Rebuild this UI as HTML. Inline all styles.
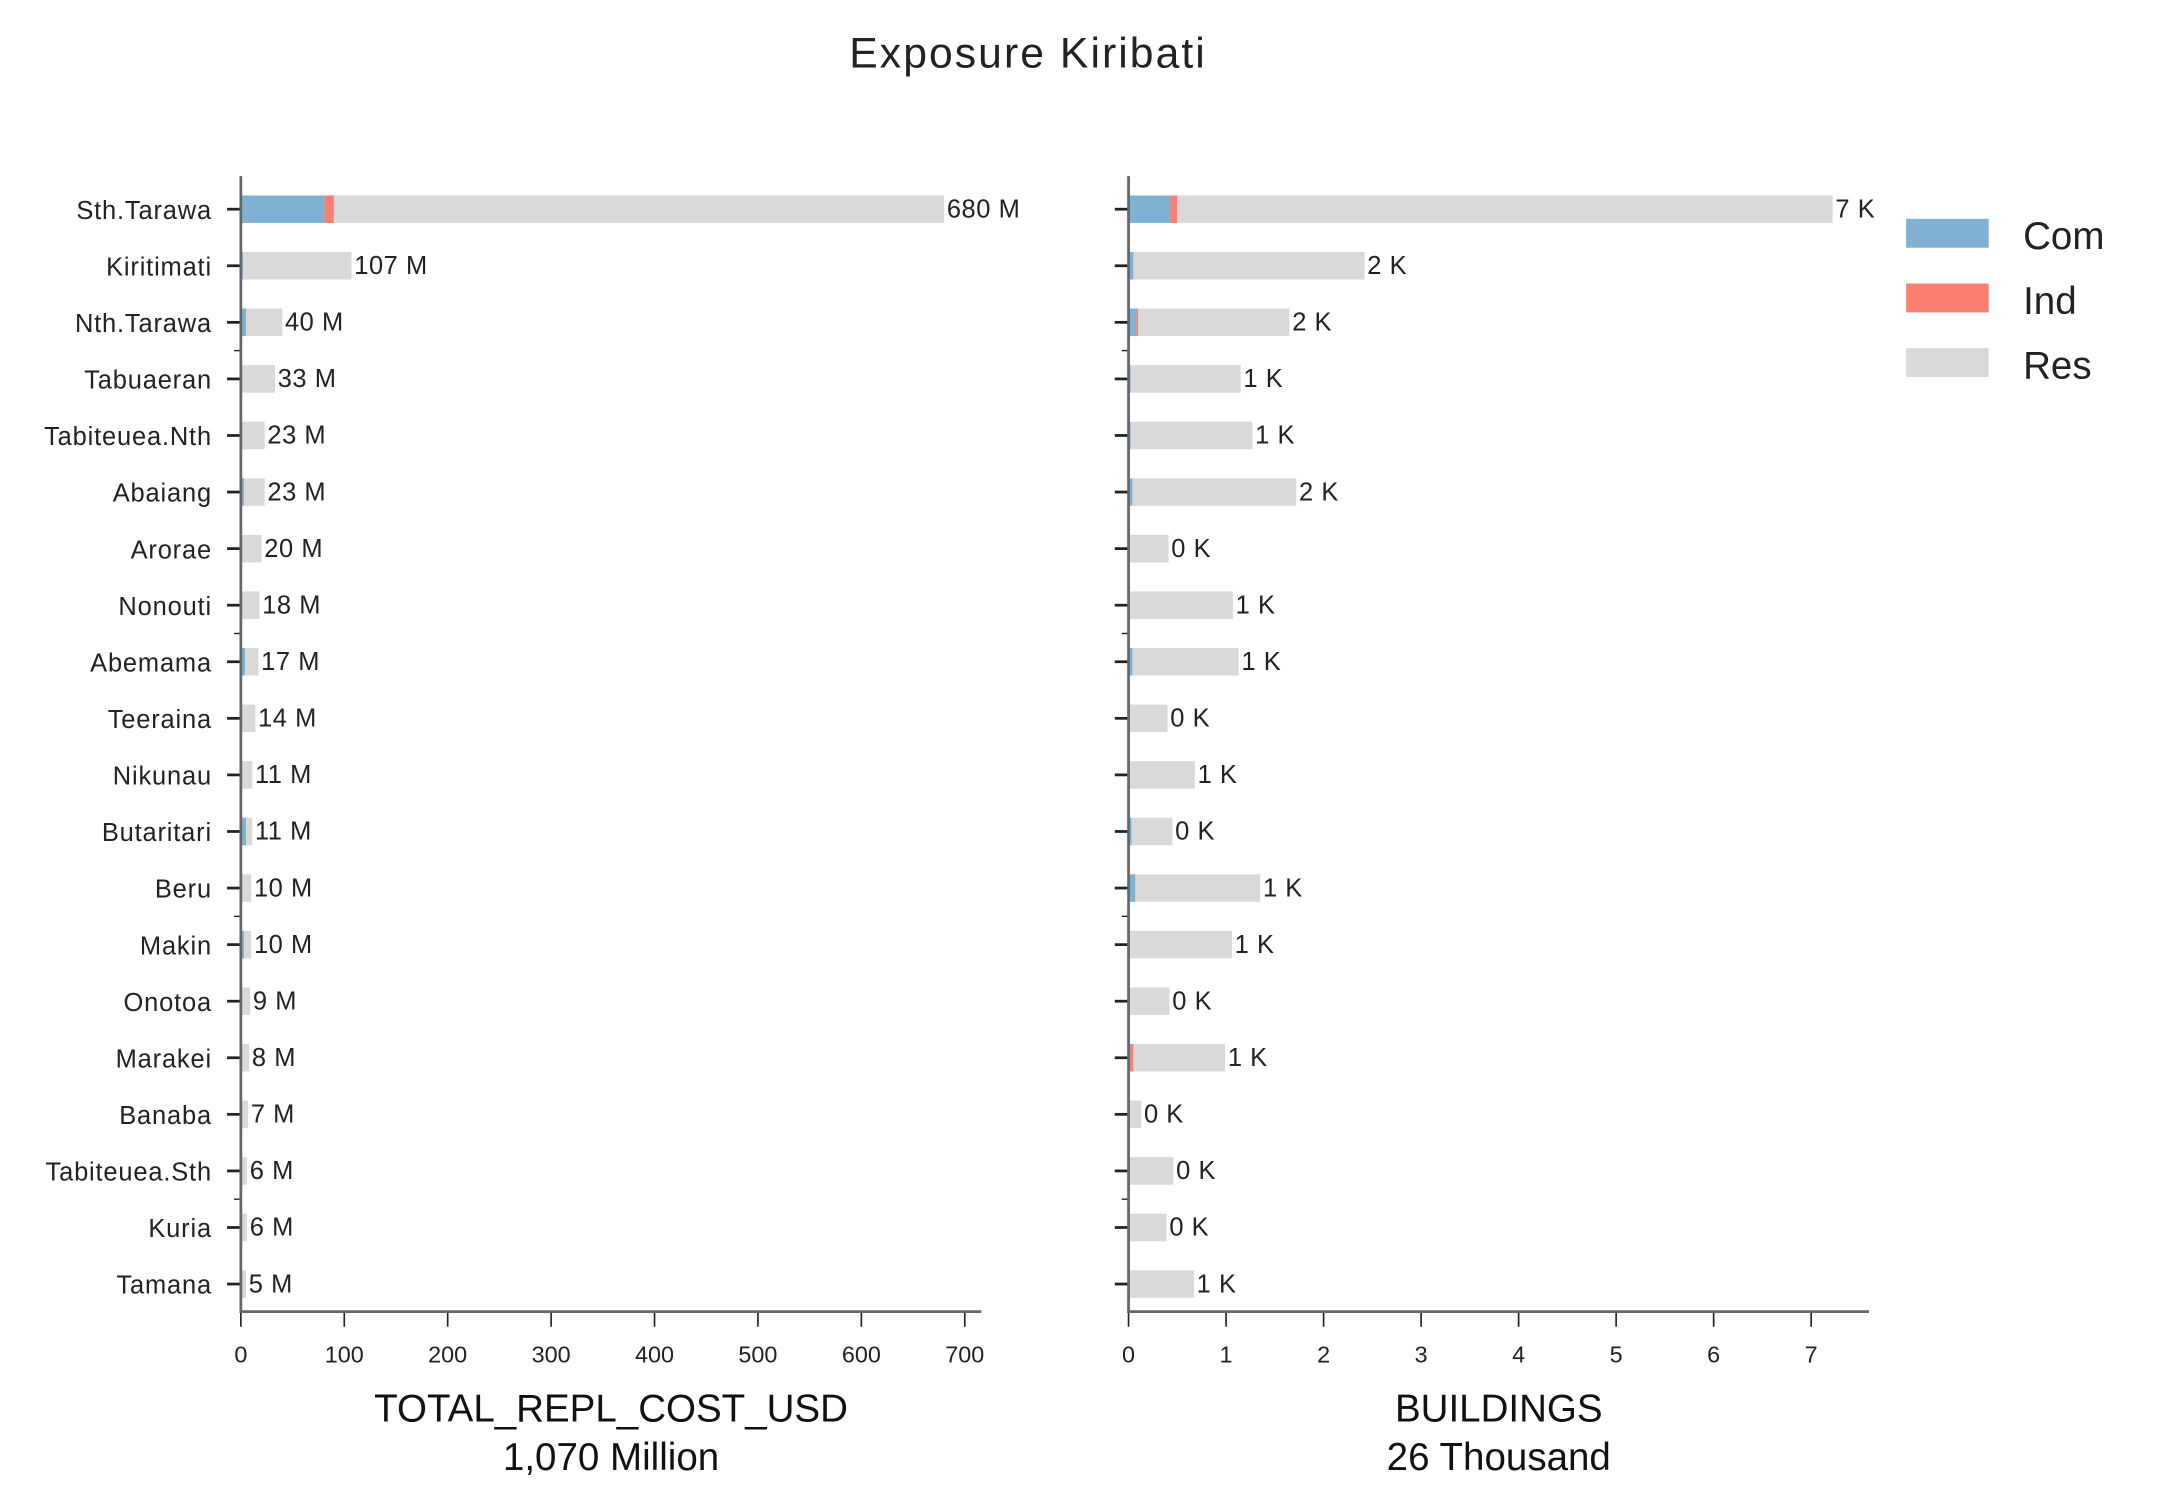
<!DOCTYPE html>
<html><head><meta charset="utf-8"><style>
html,body{margin:0;padding:0;background:#fff;}
svg{display:block;font-family:"Liberation Sans",sans-serif;}
</style></head><body>
<svg id="chart" width="2158" height="1511" viewBox="0 0 1568 1097.9" xmlns="http://www.w3.org/2000/svg">
<text x="747" y="49" font-size="31" letter-spacing="1.5" text-anchor="middle" fill="#222">Exposure Kiribati</text>
<g id="left"></g>
<g id="right"></g>
<g>
<rect x="1385" y="159" width="60" height="21" fill="#80b1d3"/>
<text x="1470" y="181" font-size="28" fill="#222">Com</text>
<rect x="1385" y="206" width="60" height="21" fill="#fb8072"/>
<text x="1470" y="228" font-size="28" fill="#222">Ind</text>
<rect x="1385" y="253" width="60" height="21" fill="#d9d9d9"/>
<text x="1470" y="275" font-size="28" fill="#222">Res</text>
</g>
</svg>
<script>
const categories = ["Sth.Tarawa","Kiritimati","Nth.Tarawa","Tabuaeran","Tabiteuea.Nth","Abaiang","Arorae","Nonouti","Abemama","Teeraina","Nikunau","Butaritari","Beru","Makin","Onotoa","Marakei","Banaba","Tabiteuea.Sth","Kuria","Tamana"];
const costCom = [81,2,5,1,0.5,3,0.5,0.5,4,0.3,0.5,5,1,3,0.5,0.5,0.3,0.3,0.3,0.3];
const costInd = [9,0,0,0,0,0,0,0.5,0,0,0,0,0,0,0,0,0,0,0,0];
const costTotal = [680,107,40,33,23,23,20,18,17,14,11,11,10,10,9,8,7,6,6,5];
const costLabels = ["680 M","107 M","40 M","33 M","23 M","23 M","20 M","18 M","17 M","14 M","11 M","11 M","10 M","10 M","9 M","8 M","7 M","6 M","6 M","5 M"];
const bldCom = [0.43,0.05,0.08,0.02,0.02,0.04,0.01,0.01,0.04,0.01,0.01,0.03,0.07,0.01,0.01,0.02,0.01,0.01,0.01,0.01];
const bldInd = [0.07,0,0.02,0,0,0,0,0,0,0,0,0,0,0,0,0.03,0,0,0,0];
const bldTotal = [7.22,2.42,1.65,1.15,1.27,1.72,0.41,1.07,1.13,0.40,0.68,0.45,1.35,1.06,0.42,0.99,0.13,0.46,0.39,0.67];
const bldLabels = ["7 K","2 K","2 K","1 K","1 K","2 K","0 K","1 K","1 K","0 K","1 K","0 K","1 K","1 K","0 K","1 K","0 K","0 K","0 K","1 K"];
const costTicks = [0,100,200,300,400,500,600,700];
const bldTicks = [0,1,2,3,4,5,6,7];

const NS = "http://www.w3.org/2000/svg";
function mk(parent, tag, attrs, text){
  const e = document.createElementNS(NS, tag);
  for (const k in attrs) e.setAttribute(k, attrs[k]);
  if (text !== undefined) e.textContent = text;
  parent.appendChild(e);
  return e;
}
const yTop = 152, yStep = (933-152)/19, barH = 20;
function yPos(i){ return yTop + i*yStep; }

function panel(g, x0, pxPerUnit, xEnd, com, ind, tot, labels, ticks, title1, title2, showNames, prefix){
  const xs = v => x0 + v*pxPerUnit;
  categories.forEach((c,i)=>{
    const y = yPos(i);
    const res = tot[i]-com[i]-ind[i];
    let r = mk(g,'rect',{x:xs(0),y:y-barH/2,width:com[i]*pxPerUnit,height:barH,fill:'#80b1d3'});
    
    
    r = mk(g,'rect',{x:xs(com[i]),y:y-barH/2,width:ind[i]*pxPerUnit,height:barH,fill:'#fb8072'});
    
    
    r = mk(g,'rect',{x:xs(com[i]+ind[i]),y:y-barH/2,width:Math.max(0,res)*pxPerUnit,height:barH,fill:'#d9d9d9'});
    
    
    let t = mk(g,'text',{x:xs(tot[i])+2,y:y+6,'font-size':18.5,'letter-spacing':0.4,fill:'#222'},labels[i]);
    
    
    let tk = mk(g,'line',{x1:x0-10,x2:x0,y1:y,y2:y,stroke:'#222','stroke-width':2});
    
    
    if (showNames){
      let n = mk(g,'text',{x:x0-21,y:y+7,'font-size':18.5,'letter-spacing':0.6,'text-anchor':'end',fill:'#222'},c);
      
      
    }
  });
  [2.5,7.5,12.5,17.5].forEach(k=>{
    const y = yPos(k);
    let m = mk(g,'line',{x1:x0-5,x2:x0,y1:y,y2:y,stroke:'#222','stroke-width':1});
    
    
  });
  let sp = mk(g,'line',{x1:x0,x2:x0,y1:128,y2:954,stroke:'#666','stroke-width':2});
  
  
  sp = mk(g,'line',{x1:x0-1,x2:xEnd,y1:953,y2:953,stroke:'#666','stroke-width':2});
  
  
  ticks.forEach((v,i)=>{
    let l = mk(g,'line',{x1:xs(v),x2:xs(v),y1:954,y2:964,stroke:'#222','stroke-width':1.2});
    
    
    let t = mk(g,'text',{x:xs(v),y:990,'font-size':17,'text-anchor':'middle',fill:'#222'},String(v));
    
    
  });
  const cx = (x0+xEnd)/2;
  let a = mk(g,'text',{x:cx,y:1033,'font-size':28,'text-anchor':'middle',fill:'#111'},title1);
  
  
  a = mk(g,'text',{x:cx,y:1068,'font-size':28,'text-anchor':'middle',fill:'#111'},title2);
  
  
}
panel(document.getElementById('left'),175,(701-175)/700,713,costCom,costInd,costTotal,costLabels,costTicks,"TOTAL_REPL_COST_USD","1,070 Million",true,'cost-');
panel(document.getElementById('right'),820,(1316-820)/7,1358,bldCom,bldInd,bldTotal,bldLabels,bldTicks,"BUILDINGS","26 Thousand",false,'bldg-');
</script>
</body></html>
